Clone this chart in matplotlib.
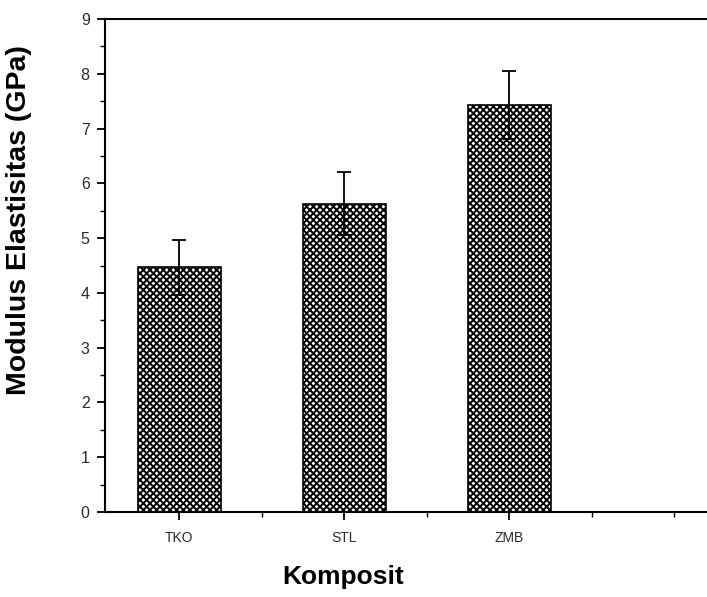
import numpy as np
import matplotlib
matplotlib.use('Agg')
import matplotlib.pyplot as plt
from matplotlib.ticker import MultipleLocator

plt.rcParams['font.family'] = ['Liberation Sans', 'DejaVu Sans']
plt.rcParams['hatch.linewidth'] = 1.4

# datos
komposit = ['TKO', 'STL', 'ZMB']
modulus = [4.47, 5.63, 7.43]
error = [0.50, 0.58, 0.62]

fig = plt.figure(figsize=(7.07, 5.97), dpi=100)
ancho_px = 1.05 * 707 - 105
ax = fig.add_axes([105 / 707, 1 - 512 / 597, ancho_px / 707, (512 - 19) / 597])

x = np.arange(1, len(komposit) + 1)
ax.bar(x, modulus, width=0.5, color='white', edgecolor='black', linewidth=1.2,
       hatch='xxxxx', zorder=2)
ax.errorbar(x, modulus, yerr=error, fmt='none', ecolor='black', elinewidth=1.3,
            capsize=5, capthick=1.3, zorder=3)

ax.set_ylim(0, 9)
ax.set_xlim(0.55, 0.55 + ancho_px / 165)
ax.set_xticks(x)
ax.set_xticklabels(komposit)
ax.xaxis.set_minor_locator(MultipleLocator(0.5))
ax.yaxis.set_major_locator(MultipleLocator(1))
ax.yaxis.set_minor_locator(MultipleLocator(0.5))
ax.tick_params(axis='both', which='major', direction='out', length=6, width=1.3,
               labelsize=11.5, labelcolor='#2a2a2a', top=False, right=False, pad=5)
ax.tick_params(axis='x', which='major', labelsize=10, pad=8)
ax.tick_params(axis='both', which='minor', direction='out', length=3.5, width=1.0,
               top=False, right=False)
for s in ax.spines.values():
    s.set_linewidth(1.5)
ax.spines['right'].set_visible(False)

ax.set_ylabel('Modulus Elastisitas (GPa)', fontsize=20.5, fontweight='bold')
ax.yaxis.set_label_coords(-(105 - 19) / ancho_px, (512 - 220) / 493)
ax.set_xlabel('Komposit', fontsize=19, fontweight='bold')
ax.xaxis.set_label_coords((343 - 105) / ancho_px, -(577 - 512) / 493)
ax.xaxis.label.set_va('center')
ax.yaxis.label.set_va('center')

fig.savefig('out.png', dpi=100)
